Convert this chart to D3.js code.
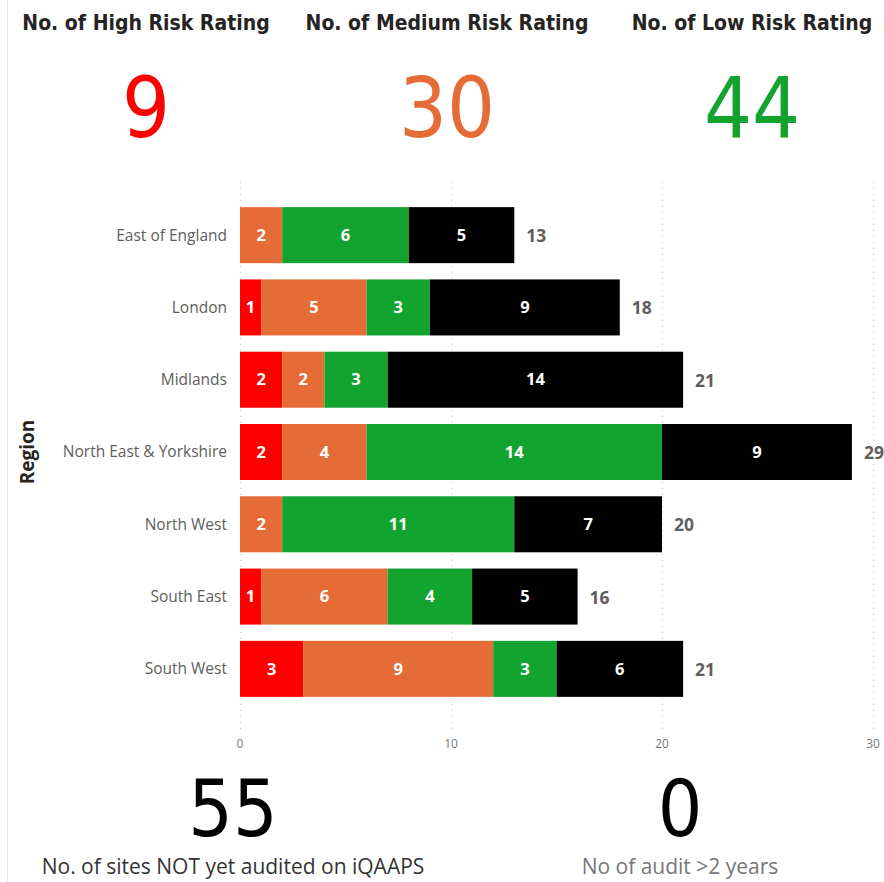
<!DOCTYPE html>
<html>
<head>
<meta charset="utf-8">
<script src="https://cdn.jsdelivr.net/npm/d3@7"></script>
<style>
  body { margin: 0; background: #fff; }
  svg { display: block; }
</style>
</head>
<body>
<div id="dash"></div>
<script>
var regions = ["East of England", "London", "Midlands", "North East & Yorkshire", "North West", "South East", "South West"];
var high = [0, 1, 2, 2, 0, 1, 3];
var medium = [2, 5, 2, 4, 2, 6, 9];
var low = [6, 3, 3, 14, 11, 4, 3];
var notAudited = [5, 9, 14, 9, 7, 5, 6];
var xTicks = [0, 10, 20, 30];
var overdueAudits = 0;

var seriesKeys = ["high", "medium", "low", "none"];
var seriesColors = ["#ff0000", "#e66c37", "#12a42f", "#000000"];

var rows = regions.map(function(r, i) {
  return { region: r, high: high[i], medium: medium[i], low: low[i], none: notAudited[i] };
});

var W = 884, H = 882;
var svg = d3.select("#dash").append("svg").attr("width", W).attr("height", H);

// faint left border of the report page
svg.append("line").attr("x1", 7.5).attr("x2", 7.5).attr("y1", 0).attr("y2", H)
  .attr("stroke", "#e6e6e6");

var titleFont = "'DejaVu Sans Condensed', sans-serif";
var bodyFont = "'Open Sans', 'Noto Sans', sans-serif";

// top KPI cards
var kpis = [
  { title: "No. of High Risk Rating", value: d3.sum(high), color: "#ff0000", cx: 146 },
  { title: "No. of Medium Risk Rating", value: d3.sum(medium), color: "#e66c37", cx: 447 },
  { title: "No. of Low Risk Rating", value: d3.sum(low), color: "#12a42f", cx: 752 }
];
var card = svg.append("g").selectAll("g").data(kpis).enter().append("g");
card.append("text")
  .attr("x", function(d) { return d.cx; }).attr("y", 30)
  .attr("text-anchor", "middle")
  .style("font-family", titleFont).style("font-weight", "bold").style("font-size", "21px")
  .style("fill", "#252423")
  .text(function(d) { return d.title; });
card.append("text")
  .attr("x", function(d) { return d.cx; }).attr("y", 137)
  .attr("text-anchor", "middle")
  .style("font-family", titleFont).style("font-size", "84px")
  .style("fill", function(d) { return d.color; })
  .text(function(d) { return d.value; });

// bar chart
var x = d3.scaleLinear().domain([0, 30]).range([240, 873]);
var y = d3.scaleBand().domain(regions).range([199, 705]).paddingInner(0.225).paddingOuter(0.1125);

svg.append("g").selectAll("line").data(xTicks).enter().append("line")
  .attr("x1", function(d) { return x(d) + 0.5; }).attr("x2", function(d) { return x(d) + 0.5; })
  .attr("y1", 182).attr("y2", 730)
  .attr("stroke", "#c8c8c8").attr("stroke-dasharray", "1,5");

svg.append("g").selectAll("text").data(xTicks).enter().append("text")
  .attr("x", function(d) { return x(d); }).attr("y", 748)
  .attr("text-anchor", "middle")
  .style("font-family", bodyFont).style("font-size", "12px").style("fill", "#777")
  .text(function(d) { return d; });

svg.append("g").selectAll("text").data(regions).enter().append("text")
  .attr("x", 227).attr("y", function(d) { return y(d) + y.bandwidth() / 2; })
  .attr("dy", "0.35em").attr("text-anchor", "end")
  .style("font-family", bodyFont).style("font-size", "15.5px").style("fill", "#605e5c")
  .text(function(d) { return d; });

svg.append("text")
  .attr("transform", "translate(34,452) rotate(-90)")
  .attr("text-anchor", "middle")
  .style("font-family", bodyFont).style("font-weight", "bold").style("font-size", "19px")
  .style("fill", "#252423")
  .text("Region");

var stacked = d3.stack().keys(seriesKeys)(rows);

var layer = svg.append("g").selectAll("g").data(stacked).enter().append("g")
  .attr("fill", function(d, i) { return seriesColors[i]; });

layer.selectAll("rect").data(function(d) { return d; }).enter()
  .filter(function(d) { return d[1] - d[0] > 0; })
  .append("rect")
  .attr("x", function(d) { return x(d[0]); })
  .attr("y", function(d) { return y(d.data.region); })
  .attr("width", function(d) { return x(d[1]) - x(d[0]); })
  .attr("height", y.bandwidth());

layer.selectAll("text").data(function(d) { return d; }).enter()
  .filter(function(d) { return d[1] - d[0] > 0; })
  .append("text")
  .attr("x", function(d) { return (x(d[0]) + x(d[1])) / 2; })
  .attr("y", function(d) { return y(d.data.region) + y.bandwidth() / 2; })
  .attr("dy", "0.35em").attr("text-anchor", "middle")
  .style("font-family", bodyFont).style("font-weight", "bold").style("font-size", "16.5px")
  .style("fill", "#fff")
  .text(function(d) { return d[1] - d[0]; });

svg.append("g").selectAll("text").data(rows).enter().append("text")
  .attr("x", function(d) { return x(d.high + d.medium + d.low + d.none) + 12; })
  .attr("y", function(d) { return y(d.region) + y.bandwidth() / 2; })
  .attr("dy", "0.4em")
  .style("font-family", bodyFont).style("font-weight", "bold").style("font-size", "17.5px")
  .style("fill", "#605e5c")
  .text(function(d) { return d.high + d.medium + d.low + d.none; });

// bottom KPI cards
var bottom = [
  { value: d3.sum(notAudited), label: "No. of sites NOT yet audited on iQAAPS", cx: 233, lc: "#333" },
  { value: overdueAudits, label: "No of audit >2 years", cx: 680, lc: "#777" }
];
var bcard = svg.append("g").selectAll("g").data(bottom).enter().append("g");
bcard.append("text")
  .attr("x", function(d) { return d.cx; }).attr("y", 836)
  .attr("text-anchor", "middle")
  .style("font-family", titleFont).style("font-size", "78px").style("fill", "#000")
  .text(function(d) { return d.value; });
bcard.append("text")
  .attr("x", function(d) { return d.cx; }).attr("y", 874)
  .attr("text-anchor", "middle")
  .style("font-family", bodyFont).style("font-size", "21px")
  .style("fill", function(d) { return d.lc; })
  .text(function(d) { return d.label; });
</script>
</body>
</html>
